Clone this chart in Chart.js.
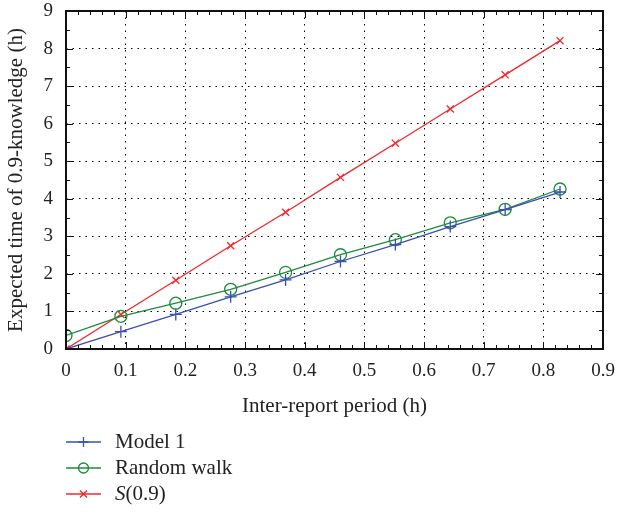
<!DOCTYPE html>
<html>
<head>
<meta charset="utf-8">
<script src="https://cdn.jsdelivr.net/npm/chart.js@4/dist/chart.umd.min.js"></script>
<style>
  html, body { margin: 0; padding: 0; background: #fff; }
  #wrap { width: 617px; height: 513px; }
</style>
</head>
<body>
<div id="wrap"><canvas id="timeChart" width="617" height="513"></canvas></div>
<script>
// data
var period = [0, 0.092, 0.184, 0.276, 0.368, 0.46, 0.552, 0.644, 0.736, 0.828];
var model1 = [0, 0.46, 0.92, 1.39, 1.84, 2.33, 2.78, 3.26, 3.71, 4.18];
var randomWalk = [0.36, 0.87, 1.22, 1.59, 2.04, 2.51, 2.91, 3.36, 3.72, 4.26];
var s09 = [0, 0.92, 1.83, 2.75, 3.64, 4.57, 5.48, 6.39, 7.3, 8.21];
var seriesNames = ['Model 1', 'Random walk', 'S(0.9)'];
var serif = '"Liberation Serif", "DejaVu Serif", serif';

function pts(ys) {
  return period.map(function (x, i) { return { x: x, y: ys[i] }; });
}

// box frame with inward major/minor ticks, plus the legend under the plot
var frame = {
  id: 'frame',
  afterDraw: function (chart) {
    var c = chart.ctx, a = chart.chartArea;
    var xs = chart.scales.x, ys = chart.scales.y;
    c.save();
    c.strokeStyle = '#111';
    c.lineWidth = 1;
    var v, px, len;
    for (var i = 0; i <= 45; i++) {
      v = i * 0.02;
      px = Math.round(xs.getPixelForValue(v)) + 0.5;
      len = (i % 5 === 0) ? 7 : 4;
      c.beginPath();
      c.moveTo(px, a.bottom); c.lineTo(px, a.bottom - len);
      c.moveTo(px, a.top); c.lineTo(px, a.top + len);
      c.stroke();
    }
    for (var j = 0; j <= 18; j++) {
      v = j * 0.5;
      px = Math.round(ys.getPixelForValue(v)) + 0.5;
      len = (j % 2 === 0) ? 7 : 4;
      c.beginPath();
      c.moveTo(a.left, px); c.lineTo(a.left + len, px);
      c.moveTo(a.right, px); c.lineTo(a.right - len, px);
      c.stroke();
    }
    c.lineWidth = 2;
    c.strokeRect(a.left, a.top, a.right - a.left, a.bottom - a.top);

    // legend
    var rowY = [442, 468, 494];
    chart.data.datasets.forEach(function (ds, k) {
      var y = rowY[k];
      c.strokeStyle = ds.borderColor;
      c.fillStyle = 'rgba(0,0,0,0)';
      c.lineWidth = 1.3;
      c.beginPath(); c.moveTo(66, y); c.lineTo(101, y); c.stroke();
      Chart.helpers.drawPoint(c, {
        pointStyle: ds.pointStyle, radius: 5, borderWidth: 1.3, rotation: 0
      }, 83.5, y);
      c.fillStyle = '#222';
      c.font = '21px ' + serif;
      c.textBaseline = 'middle';
      if (k === 2) {
        c.font = 'italic 21px ' + serif;
        c.fillText('S', 115, y);
        var w = c.measureText('S').width;
        c.font = '21px ' + serif;
        c.fillText('(0.9)', 115 + w, y);
      } else {
        c.fillText(ds.label, 115, y);
      }
    });
    c.restore();
  }
};

var ctx = document.getElementById('timeChart');
var chart = new Chart(ctx, {
  type: 'line',
  data: {
    datasets: [{
      label: seriesNames[0],
      data: pts(model1),
      borderColor: '#3a4fb0',
      backgroundColor: 'rgba(0,0,0,0)',
      pointStyle: 'cross',
      pointRadius: 6,
      pointBorderWidth: 1.3,
      borderWidth: 1.3
    }, {
      label: seriesNames[1],
      data: pts(randomWalk),
      borderColor: '#1e8a3c',
      backgroundColor: 'rgba(0,0,0,0)',
      pointStyle: 'circle',
      pointRadius: 6,
      pointBorderWidth: 1.3,
      borderWidth: 1.3
    }, {
      label: seriesNames[2],
      data: pts(s09),
      borderColor: '#f0282a',
      backgroundColor: 'rgba(0,0,0,0)',
      pointStyle: 'crossRot',
      pointRadius: 5,
      pointBorderWidth: 1.3,
      borderWidth: 1.3
    }]
  },
  options: {
    responsive: false,
    animation: false,
    layout: { padding: { top: 11, right: 14, bottom: 94, left: 4 } },
    plugins: {
      legend: { display: false },
      tooltip: { enabled: false }
    },
    scales: {
      x: {
        type: 'linear',
        min: 0, max: 0.9,
        afterFit: function (s) {
          s.height = 70;
          s.paddingLeft = 0; s.paddingRight = 0;
        },
        ticks: {
          stepSize: 0.1,
          color: '#222',
          font: { family: serif, size: 19 },
          padding: 11,
          callback: function (v) { return String(Math.round(v * 10) / 10); }
        },
        grid: { color: '#000', lineWidth: 1, drawTicks: false },
        border: { display: false, dash: [1.5, 5] },
        title: {
          display: true, text: 'Inter-report period (h)', color: '#222',
          font: { family: serif, size: 21 }, padding: { top: 0, bottom: 0 }
        }
      },
      y: {
        min: 0, max: 9,
        afterFit: function (s) {
          s.width = 62;
          s.paddingTop = 0; s.paddingBottom = 0;
        },
        ticks: {
          stepSize: 1,
          color: '#222',
          font: { family: serif, size: 19 },
          padding: 13
        },
        grid: { color: '#000', lineWidth: 1, drawTicks: false },
        border: { display: false, dash: [1.5, 5] },
        title: {
          display: true, text: 'Expected time of 0.9-knowledge (h)', color: '#222',
          font: { family: serif, size: 21 }, padding: { top: 0, bottom: 0 }
        }
      }
    }
  },
  plugins: [frame]
});
</script>
</body>
</html>
